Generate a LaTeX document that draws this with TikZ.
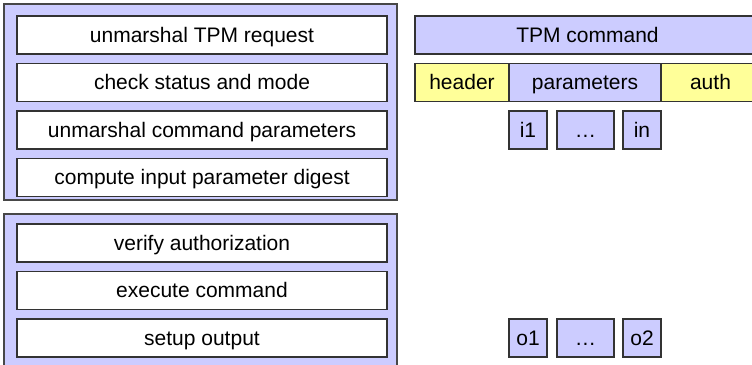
\documentclass[tikz,border=0pt]{standalone}
\usepackage{fontspec}
\setmainfont{Liberation Sans}
\definecolor{lav}{HTML}{CCCCFF}
\definecolor{yel}{HTML}{FFFF99}
\definecolor{edgec}{HTML}{333333}
\begin{document}
\begin{tikzpicture}[x=1pt,y=-1pt,
  base/.style={draw=edgec, line width=1.1pt, inner sep=0pt, outer sep=0pt, anchor=north west,
    font=\fontsize{21}{25}\selectfont, text height=17pt, text depth=3pt},
  outerbox/.style={base, fill=lav, line width=1.4pt, draw=edgec!90},
  stepbox/.style={base, fill=white, minimum width=370pt, minimum height=38pt},
  lavbox/.style={base, fill=lav, minimum height=38pt},
  yelbox/.style={base, fill=yel, minimum height=38pt}]
\useasboundingbox (0,0) rectangle (752,364);
\clip (0,0) rectangle (752,364);
% left column
\node[outerbox, minimum width=393pt, minimum height=196pt] (g1) at (4,4) {};
\node[outerbox, minimum width=393pt, minimum height=160pt] (g2) at (4,214) {};
\node[stepbox] (s1) at (17,16) {unmarshal TPM request};
\node[stepbox] (s2) at (17,63.5) {check status and mode};
\node[stepbox] (s3) at (17,111) {unmarshal command parameters};
\node[stepbox] (s4) at (17,158.5) {compute input parameter digest};
\node[stepbox] (s5) at (17,224) {verify authorization};
\node[stepbox] (s6) at (17,271.5) {execute command};
\node[stepbox] (s7) at (17,319) {setup output};
% right column
\node[lavbox, minimum width=345pt] (cmd) at (415,16) {TPM command};
\node[yelbox, minimum width=94pt] (hdr) at (415,63.5) {header};
\node[lavbox, minimum width=152pt] (par) at (509,63.5) {parameters};
\node[yelbox, minimum width=99pt] (auth) at (661,63.5) {auth};
\node[lavbox, minimum width=38pt] (i1) at (509,111) {i1};
\node[lavbox, minimum width=57pt] (idots) at (557,111) {.\kern1pt.\kern1pt.};
\node[lavbox, minimum width=38pt] (in) at (623,111) {in};
\node[lavbox, minimum width=38pt] (o1) at (509,319) {o1};
\node[lavbox, minimum width=57pt] (odots) at (557,319) {.\kern1pt.\kern1pt.};
\node[lavbox, minimum width=38pt] (o2) at (623,319) {o2};
\end{tikzpicture}
\end{document}
